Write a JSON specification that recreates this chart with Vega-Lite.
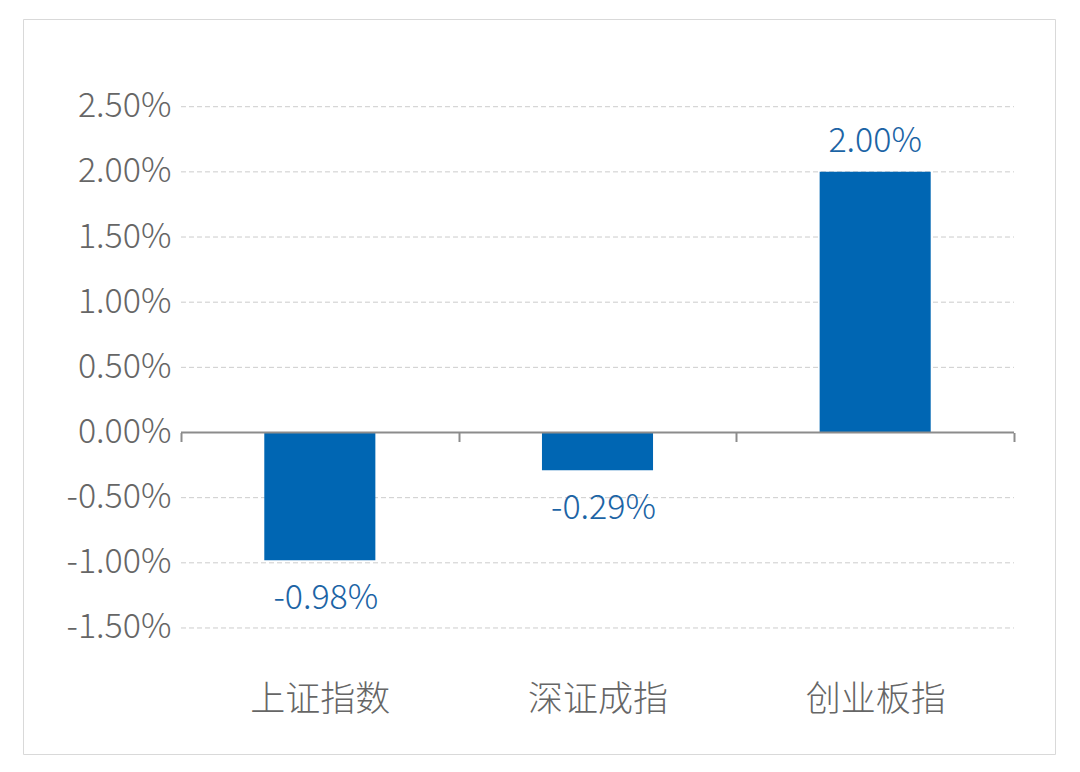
{
  "$schema": "https://vega.github.io/schema/vega-lite/v6.json",
  "width": 1032,
  "height": 735,
  "autosize": {"type": "none"},
  "padding": {"left": 23, "top": 19, "right": 25, "bottom": 18},
  "background": "white",
  "config": {
    "view": {"stroke": "#d9d9d9", "strokeWidth": 1},
    "font": "Noto Sans CJK SC",
    "locale": {"number": {"decimal": ".", "thousands": ",", "grouping": [3], "currency": ["$", ""], "minus": "-"}}
  },
  "datasets": {
    "main": [
      {"指数": "上证指数", "涨跌幅": -0.0098},
      {"指数": "深证成指", "涨跌幅": -0.0029},
      {"指数": "创业板指", "涨跌幅": 0.02}
    ],
    "grid": [
      {"v": -0.015}, {"v": -0.01}, {"v": -0.005}, {"v": 0.005},
      {"v": 0.01}, {"v": 0.015}, {"v": 0.02}, {"v": 0.025}
    ],
    "zero": [{"v": 0}]
  },
  "layer": [
    {
      "data": {"name": "grid"},
      "mark": {"type": "rule", "color": "#cccccc", "strokeDash": [5, 3], "strokeWidth": 1},
      "encoding": {
        "y": {"field": "v", "type": "quantitative"},
        "x": {"datum": "上证指数", "bandPosition": 0},
        "x2": {"datum": "创业板指", "bandPosition": 1}
      }
    },
    {
      "data": {"name": "main"},
      "mark": {"type": "bar", "color": "#0066b3", "width": {"band": 0.4}},
      "encoding": {
        "x": {
          "field": "指数", "type": "nominal", "sort": null,
          "scale": {"domain": ["上证指数", "深证成指", "创业板指"], "paddingInner": 0, "paddingOuter": 0.3583, "align": 0.794},
          "axis": {
            "orient": "bottom", "offset": -321.5, "title": null, "domain": false, "grid": false,
            "ticks": true, "tickBand": "extent", "tickSize": 9, "tickWidth": 2, "tickColor": "#8c8c8c",
            "labelAngle": 0, "labelAlign": "center", "labelPadding": 258, "labelFontSize": 35, "labelColor": "#666666",
            "labelFont": "Noto Sans CJK SC", "labelFontWeight": 300
          }
        },
        "y": {
          "field": "涨跌幅", "type": "quantitative",
          "scale": {"domain": [-0.02467, 0.03173], "nice": false, "zero": false},
          "axis": {
            "orient": "left", "offset": -158, "title": null, "domain": false, "ticks": false, "grid": false,
            "values": [-0.015, -0.01, -0.005, 0, 0.005, 0.01, 0.015, 0.02, 0.025],
            "format": ".2%", "labelPadding": 10, "labelFontSize": 34, "labelColor": "#666666",
            "labelFont": "Noto Sans CJK SC", "labelFontWeight": 300
          }
        }
      }
    },
    {
      "data": {"name": "zero"},
      "mark": {"type": "rule", "color": "#8c8c8c", "strokeWidth": 2},
      "encoding": {
        "y": {"field": "v", "type": "quantitative"},
        "x": {"datum": "上证指数", "bandPosition": 0},
        "x2": {"datum": "创业板指", "bandPosition": 1}
      }
    },
    {
      "data": {"name": "main"},
      "transform": [{"filter": "datum['涨跌幅'] > 0"}],
      "mark": {"type": "text", "baseline": "alphabetic", "align": "center", "dy": -20, "fontSize": 34, "fontWeight": 300, "color": "#1c64a5"},
      "encoding": {
        "x": {"field": "指数", "type": "nominal", "sort": null},
        "y": {"field": "涨跌幅", "type": "quantitative"},
        "text": {"field": "涨跌幅", "type": "quantitative", "format": ".2%"}
      }
    },
    {
      "data": {"name": "main"},
      "transform": [{"filter": "datum['涨跌幅'] < 0"}],
      "mark": {"type": "text", "baseline": "top", "align": "center", "dy": 22, "dx": 6, "fontSize": 34, "fontWeight": 300, "color": "#1c64a5"},
      "encoding": {
        "x": {"field": "指数", "type": "nominal", "sort": null},
        "y": {"field": "涨跌幅", "type": "quantitative"},
        "text": {"field": "涨跌幅", "type": "quantitative", "format": ".2%"}
      }
    }
  ]
}
